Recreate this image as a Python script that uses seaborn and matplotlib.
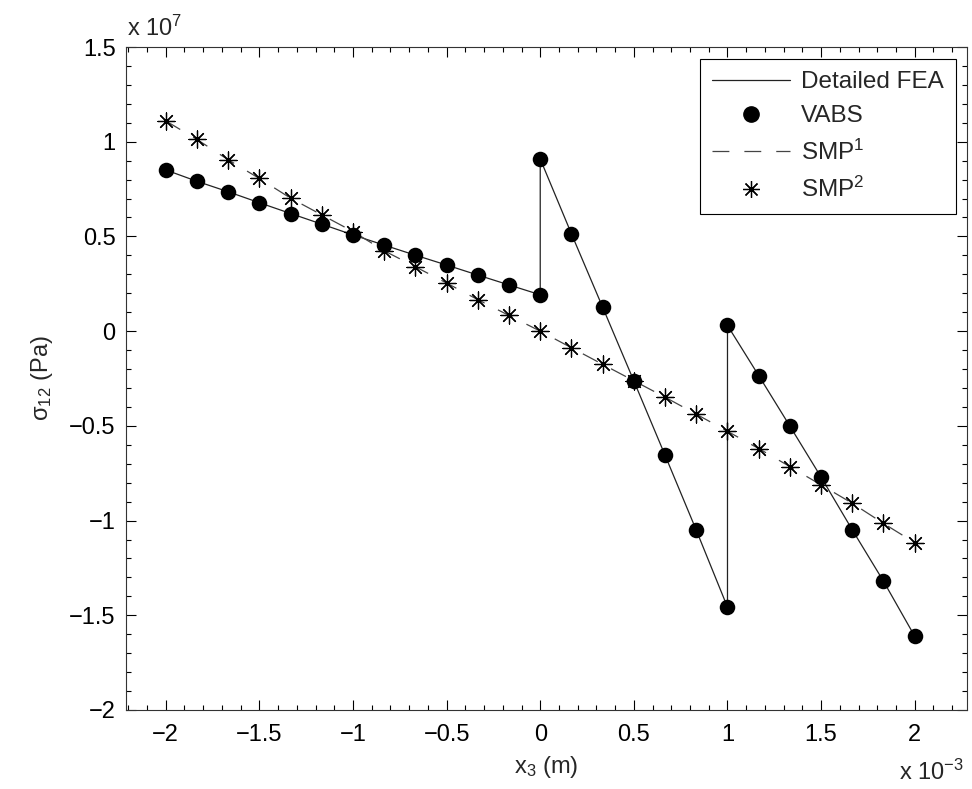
import pandas as pd
import seaborn as sns
import matplotlib.pyplot as plt
from matplotlib.lines import Line2D
from matplotlib.ticker import MultipleLocator

# x3 in units of 1e-3 m, sigma_12 in units of 1e7 Pa
x_left = [-2.0, -1.833, -1.667, -1.5, -1.333, -1.167, -1.0, -0.833, -0.667, -0.5, -0.333, -0.167, 0.0]
x_mid = [0.0, 0.167, 0.333, 0.5, 0.667, 0.833, 1.0]
x_right = [1.0, 1.167, 1.333, 1.5, 1.667, 1.833, 2.0]

vabs_left = [0.851, 0.791, 0.736, 0.678, 0.621, 0.565, 0.508, 0.454, 0.401, 0.349, 0.296, 0.244, 0.192]
vabs_mid = [0.909, 0.513, 0.127, -0.263, -0.656, -1.05, -1.457]
vabs_right = [0.03, -0.235, -0.501, -0.771, -1.05, -1.32, -1.611]

smp_x = [-2.0, -1.833, -1.667, -1.5, -1.333, -1.167, -1.0, -0.833, -0.667, -0.5, -0.333, -0.167,
         0.0, 0.167, 0.333, 0.5, 0.667, 0.833, 1.0, 1.167, 1.333, 1.5, 1.667, 1.833, 2.0]
smp_y = [1.11, 1.012, 0.905, 0.806, 0.702, 0.614, 0.526, 0.424, 0.34, 0.254, 0.166, 0.083,
         0.0, -0.088, -0.175, -0.262, -0.349, -0.438, -0.529, -0.62, -0.715, -0.812, -0.909, -1.015, -1.117]

fea = pd.DataFrame({"x": x_left + x_mid + x_right, "y": vabs_left + vabs_mid + vabs_right})
vabs = fea.copy()
smp = pd.DataFrame({"x": smp_x, "y": smp_y})

sns.set_style("ticks")
plt.rcParams["font.family"] = ["Liberation Sans", "DejaVu Sans"]
plt.rcParams["mathtext.default"] = "regular"

fig = plt.figure(figsize=(9.72, 7.89), dpi=100)
# axes box: 126..967 px wide, 47..710 px tall
ax = fig.add_axes([126 / 972, 1 - 710 / 789, 841 / 972, 663 / 789])

dash = (13.5, 12)
sns.lineplot(data=fea, x="x", y="y", sort=False, estimator=None, color="#222222",
             linewidth=0.9, ax=ax, legend=False)
sns.scatterplot(data=vabs, x="x", y="y", color="black", s=125, edgecolor="black",
                linewidth=0, ax=ax, legend=False, zorder=3)
sns.lineplot(data=smp, x="x", y="y", sort=False, estimator=None, color="#444444",
             linewidth=0.9, dashes=[dash], style=[0] * len(smp), ax=ax, legend=False)
sns.scatterplot(data=smp, x="x", y="y", marker=(8, 2, 0), s=150, color="black",
                edgecolor="black", linewidth=0.9, ax=ax, legend=False, zorder=3)

ax.set_xlim(-2.212, 2.279)
ax.set_ylim(-2, 1.5)
ax.xaxis.set_minor_locator(MultipleLocator(0.1))
ax.yaxis.set_minor_locator(MultipleLocator(0.1))
ax.set_xticks([-2, -1.5, -1, -0.5, 0, 0.5, 1, 1.5, 2])
ax.set_xticklabels(["\u22122", "\u22121.5", "\u22121", "\u22120.5", "0", "0.5", "1", "1.5", "2"])
ax.set_yticks([-2, -1.5, -1, -0.5, 0, 0.5, 1, 1.5])
ax.set_yticklabels(["\u22122", "\u22121.5", "\u22121", "\u22120.5", "0", "0.5", "1", "1.5"])
ax.tick_params(which="both", direction="in", top=True, right=True, labelsize=17, colors="black")
ax.tick_params(which="major", length=7, width=0.8)
ax.tick_params(which="minor", length=3.5, width=0.8)
ax.tick_params(axis="y", which="both", pad=7.5)
ax.tick_params(axis="x", which="both", pad=10)
for s in ax.spines.values():
    s.set_color("#333333")
    s.set_linewidth(0.8)

ax.set_xlabel("x$_3$ (m)", fontsize=17, labelpad=6)
ax.set_ylabel("\u03c3$_{12}$ (Pa)", fontsize=17, labelpad=10)

fig.text(127 / 972, 1 - 36 / 789, "x 10$^7$", fontsize=17, ha="left", va="baseline")
fig.text(899 / 972, 1 - 780 / 789, "x 10$^{-3}$", fontsize=17, ha="left", va="baseline")

handles = [
    Line2D([], [], color="#222222", linewidth=0.9),
    Line2D([], [], color="black", marker="o", markersize=11, linestyle="none"),
    Line2D([], [], color="#444444", linewidth=0.9, dashes=dash),
    Line2D([], [], color="black", marker=(8, 2, 0), markersize=12, markeredgewidth=0.9,
           linestyle="none"),
]
labels = ["Detailed FEA", "VABS", "SMP$^1$", "SMP$^2$"]
leg = ax.legend(handles, labels, loc="upper right", fontsize=17.5,
                bbox_to_anchor=(956 / 972, 1 - 59 / 789), bbox_transform=fig.transFigure,
                frameon=True, fancybox=False, edgecolor="black", framealpha=1,
                handlelength=3.2, handletextpad=0.45, labelspacing=0.5,
                borderaxespad=0, borderpad=0.5)
leg.get_frame().set_linewidth(0.8)

fig.savefig("out.png", dpi=100)
